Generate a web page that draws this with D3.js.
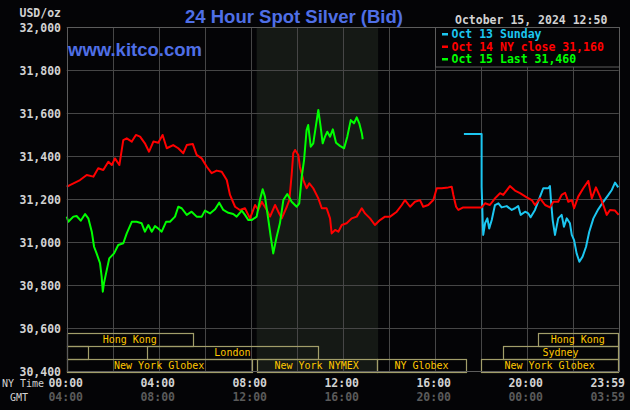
<!DOCTYPE html>
<html>
<head>
<meta charset="utf-8">
<script src="https://cdn.jsdelivr.net/npm/d3@7"></script>
<style>
  body { margin: 0; background: #040406; }
  svg { display: block; }
  .mono { font-family: "DejaVu Sans Mono", "Liberation Mono", monospace; }
  .sans { font-family: "Liberation Sans", Arial, sans-serif; }
</style>
</head>
<body>
<svg width="630" height="410"></svg>
<script>
//  chart data (hour of NY day, price)
var oct13 = [[17.27,31.502],[18.04,31.502],[18.04,31.257],[18.09,31.087],[18.11,31.033],[18.19,31.087],[18.29,31.110],[18.37,31.063],[18.48,31.102],[18.62,31.172],[18.77,31.180],[18.91,31.161],[19.13,31.167],[19.35,31.149],[19.49,31.157],[19.63,31.167],[19.74,31.126],[19.93,31.141],[20.07,31.133],[20.17,31.115],[20.36,31.149],[20.58,31.211],[20.72,31.250],[20.94,31.250],[21.01,31.260],[21.06,31.187],[21.13,31.102],[21.23,31.033],[21.37,31.110],[21.52,31.126],[21.62,31.071],[21.74,31.110],[21.88,31.087],[21.96,31.033],[22.06,31.009],[22.17,30.947],[22.29,30.908],[22.43,30.932],[22.58,30.978],[22.72,31.048],[22.90,31.110],[23.11,31.152],[23.33,31.187],[23.55,31.219],[23.70,31.242],[23.84,31.276],[23.98,31.254]];

var oct14 = [[0.00,31.257],[0.14,31.265],[0.58,31.288],[0.87,31.312],[1.16,31.304],[1.37,31.343],[1.59,31.335],[1.81,31.373],[1.96,31.358],[2.10,31.389],[2.29,31.358],[2.46,31.474],[2.61,31.482],[2.83,31.467],[3.01,31.498],[3.19,31.490],[3.40,31.459],[3.58,31.420],[3.77,31.467],[3.98,31.462],[4.17,31.498],[4.35,31.436],[4.63,31.451],[4.85,31.436],[5.07,31.413],[5.22,31.451],[5.48,31.456],[5.65,31.405],[5.87,31.389],[6.09,31.350],[6.30,31.320],[6.52,31.332],[6.74,31.327],[6.96,31.288],[7.10,31.219],[7.32,31.164],[7.53,31.149],[7.75,31.157],[7.97,31.110],[8.19,31.172],[8.33,31.149],[8.48,31.187],[8.70,31.149],[8.84,31.118],[9.06,31.172],[9.20,31.141],[9.35,31.110],[9.57,31.164],[9.68,31.195],[9.78,31.312],[9.85,31.413],[9.93,31.428],[10.07,31.405],[10.14,31.350],[10.29,31.288],[10.43,31.250],[10.55,31.273],[10.72,31.250],[10.94,31.203],[11.09,31.157],[11.30,31.157],[11.45,31.110],[11.52,31.040],[11.67,31.056],[11.81,31.048],[11.96,31.079],[12.17,31.087],[12.39,31.110],[12.61,31.118],[12.83,31.157],[12.97,31.133],[13.19,31.110],[13.40,31.079],[13.62,31.102],[13.84,31.118],[14.06,31.118],[14.35,31.141],[14.57,31.172],[14.71,31.195],[14.93,31.164],[15.14,31.187],[15.36,31.195],[15.50,31.164],[15.72,31.172],[15.94,31.195],[16.09,31.250],[16.30,31.250],[16.59,31.254],[16.74,31.257],[16.81,31.219],[16.93,31.164],[17.03,31.149],[17.24,31.161],[18.04,31.161],[18.19,31.180],[18.40,31.172],[18.62,31.203],[18.84,31.227],[18.98,31.219],[19.27,31.260],[19.49,31.239],[19.71,31.227],[20.00,31.208],[20.22,31.195],[20.36,31.172],[20.58,31.203],[20.80,31.172],[21.01,31.161],[21.16,31.187],[21.37,31.187],[21.52,31.219],[21.67,31.229],[21.81,31.187],[21.96,31.195],[22.06,31.157],[22.24,31.211],[22.46,31.250],[22.68,31.284],[22.83,31.203],[23.01,31.254],[23.19,31.211],[23.33,31.172],[23.48,31.126],[23.62,31.149],[23.84,31.146],[24.00,31.126]];

var oct15 = [[0.00,31.118],[0.07,31.094],[0.29,31.118],[0.43,31.121],[0.61,31.099],[0.80,31.130],[0.94,31.110],[1.09,31.048],[1.19,30.978],[1.30,30.947],[1.45,30.901],[1.52,30.839],[1.57,30.769],[1.62,30.808],[1.71,30.854],[1.85,30.924],[2.06,30.947],[2.24,30.986],[2.46,30.994],[2.61,31.040],[2.83,31.094],[3.04,31.094],[3.26,31.087],[3.40,31.048],[3.55,31.079],[3.70,31.048],[3.84,31.074],[3.98,31.063],[4.13,31.048],[4.32,31.094],[4.49,31.094],[4.71,31.118],[4.85,31.164],[5.00,31.157],[5.22,31.126],[5.43,31.141],[5.65,31.118],[5.87,31.118],[6.01,31.146],[6.23,31.133],[6.45,31.152],[6.63,31.183],[6.81,31.149],[7.03,31.136],[7.24,31.130],[7.39,31.118],[7.61,31.146],[7.75,31.126],[7.90,31.102],[8.04,31.102],[8.26,31.118],[8.40,31.195],[8.52,31.245],[8.62,31.211],[8.77,31.102],[8.87,31.025],[8.98,30.947],[9.13,31.025],[9.27,31.087],[9.42,31.195],[9.59,31.223],[9.78,31.187],[10.00,31.164],[10.11,31.180],[10.22,31.304],[10.32,31.381],[10.43,31.521],[10.50,31.544],[10.61,31.443],[10.72,31.459],[10.84,31.544],[10.94,31.614],[11.04,31.537],[11.13,31.459],[11.23,31.490],[11.33,31.513],[11.45,31.490],[11.57,31.524],[11.71,31.462],[11.88,31.447],[12.06,31.436],[12.20,31.490],[12.35,31.567],[12.49,31.552],[12.61,31.580],[12.72,31.552],[12.83,31.506],[12.87,31.478]];

var seriesData = [oct13, oct14, oct15];
var seriesLabels = ["Oct 13 Sunday", "Oct 14 NY close 31,160", "Oct 15 Last 31,460"];
var seriesColors = ["#1cc6f0", "#ff0000", "#00ff00"];

//  axis ticks
var priceTicks = [30.4, 30.6, 30.8, 31.0, 31.2, 31.4, 31.6, 31.8, 32.0];
var timeTicks = [0, 4, 8, 12, 16, 20, 23.98];
var nyLabels = ["00:00", "04:00", "08:00", "12:00", "16:00", "20:00", "23:59"];
var gmtLabels = ["04:00", "08:00", "12:00", "16:00", "20:00", "00:00", "03:59"];

//  trading sessions (row, start hour, end hour, name)
var sessionRows = [0, 0, 1, 1, 1, 2, 2, 2, 2];
var sessionStart = [0, 20.48, 0, 3.48, 18.98, 0, 8.26, 13.50, 18.03];
var sessionEnd = [5.48, 23.96, 0.94, 10.93, 23.96, 8.04, 13.47, 17.35, 23.96];
var sessionNames = ["Hong Kong", "Hong Kong", "", "London", "Sydney", "New York Globex", "New York NYMEX", "NY Globex", "New York Globex"];

//  NYMEX pit hours (shaded)
var pitHours = [8.26, 13.54];

//  svg and scales
var svg = d3.select("svg");
var x = d3.scaleLinear().domain([0, 24]).range([66.7, 618.7]);
var y = d3.scaleLinear().domain([30.4, 32.0]).range([371, 27]);

var gridColor = "#464646";
var textColor = "#d2d2d2";

svg.append("rect").attr("width", 630).attr("height", 410).attr("fill", "#040406");

//  shaded pit session
svg.append("rect")
  .attr("x", x(pitHours[0]))
  .attr("y", y(32.0))
  .attr("width", x(pitHours[1]) - x(pitHours[0]))
  .attr("height", y(30.4) - y(32.0))
  .attr("fill", "#151915");

//  grid
svg.append("g").selectAll("line").data(d3.range(0, 25, 2))
  .enter().append("line")
    .attr("x1", function(d) { return Math.round(x(d)) + 0.5; })
    .attr("x2", function(d) { return Math.round(x(d)) + 0.5; })
    .attr("y1", y(32.0))
    .attr("y2", y(30.4))
    .attr("stroke", gridColor);

svg.append("g").selectAll("line").data(priceTicks)
  .enter().append("line")
    .attr("x1", x(0))
    .attr("x2", x(24))
    .attr("y1", function(d) { return Math.round(y(d)) + 0.5; })
    .attr("y2", function(d) { return Math.round(y(d)) + 0.5; })
    .attr("stroke", gridColor);

//  session bars
var rowTop = 333, rowH = 13;
var sessions = sessionNames.map(function(n, i) {
  return { name: n, row: sessionRows[i], start: sessionStart[i], end: sessionEnd[i] };
});

var sess = svg.append("g");
sess.selectAll("rect").data(sessions)
  .enter().append("rect")
    .attr("x", function(d) { return Math.round(x(d.start)) + 0.5; })
    .attr("y", function(d) { return rowTop + d.row * rowH + 0.5; })
    .attr("width", function(d) { return Math.round(x(d.end)) - Math.round(x(d.start)); })
    .attr("height", rowH)
    .attr("fill", "none")
    .attr("stroke", "#a29e6a")
    .attr("stroke-width", 1.2);

sess.selectAll("text").data(sessions)
  .enter().append("text")
    .attr("class", "mono")
    .attr("x", function(d) { return (x(d.start) + x(d.end)) / 2; })
    .attr("y", function(d) { return rowTop + d.row * rowH + 10; })
    .attr("text-anchor", "middle")
    .attr("font-size", "10px")
    .attr("fill", "#ffc800")
    .text(function(d) { return d.name; });

//  price lines
var line = d3.line()
  .x(function(d) { return x(d[0]); })
  .y(function(d) { return y(d[1]); });

svg.append("g").selectAll("path").data(seriesData)
  .enter().append("path")
    .attr("d", line)
    .attr("fill", "none")
    .attr("stroke", function(d, i) { return seriesColors[i]; })
    .attr("stroke-width", 2)
    .attr("stroke-linejoin", "round");

//  plot border
svg.append("rect")
  .attr("x", Math.round(x(0)) + 0.5)
  .attr("y", y(32.0) + 0.5)
  .attr("width", Math.round(x(24)) - Math.round(x(0)))
  .attr("height", y(30.4) - y(32.0))
  .attr("fill", "none")
  .attr("stroke", "#5c5c5c");

//  legend
var legend = svg.append("g");
legend.append("rect")
  .attr("x", Math.round(x(16)) + 0.5)
  .attr("y", y(32.0) + 0.5)
  .attr("width", Math.round(x(24)) - Math.round(x(16)))
  .attr("height", 39.5)
  .attr("fill", "#040406")
  .attr("stroke", "#5c5c5c");

var items = legend.selectAll("g.item").data(seriesLabels)
  .enter().append("g")
    .attr("class", "item")
    .attr("transform", function(d, i) { return "translate(0," + (38 + i * 12.5) + ")"; });

items.append("rect")
  .attr("x", 442)
  .attr("y", -5)
  .attr("width", 6)
  .attr("height", 2.5)
  .attr("fill", function(d, i) { return seriesColors[i]; });

items.append("text")
  .attr("class", "mono")
  .attr("x", 451.5)
  .attr("font-size", "11.5px")
  .attr("font-weight", "bold")
  .attr("fill", function(d, i) { return seriesColors[i]; })
  .text(function(d) { return d; });

//  y axis labels
svg.append("g").selectAll("text").data(priceTicks)
  .enter().append("text")
    .attr("class", "mono")
    .attr("x", 61)
    .attr("y", function(d) { return y(d) + 4.5; })
    .attr("text-anchor", "end")
    .attr("font-size", "11.5px")
    .attr("font-weight", "bold")
    .attr("fill", textColor)
    .text(function(d) { return d3.format(".3f")(d).replace(".", ","); });

svg.append("text")
  .attr("class", "mono")
  .attr("x", 61).attr("y", 17)
  .attr("text-anchor", "end")
  .attr("font-size", "11.5px")
  .attr("font-weight", "bold")
  .attr("fill", textColor)
  .text("USD/oz");

//  x axis labels
var xl = svg.append("g");
xl.selectAll("text.ny").data(nyLabels)
  .enter().append("text")
    .attr("class", "mono ny")
    .attr("x", function(d, i) { return i == nyLabels.length - 1 ? 625 : x(timeTicks[i]) - 1; })
    .attr("y", 387)
    .attr("text-anchor", function(d, i) { return i == nyLabels.length - 1 ? "end" : "middle"; })
    .attr("font-size", "11.5px")
    .attr("font-weight", "bold")
    .attr("fill", textColor)
    .text(function(d) { return d; });

xl.selectAll("text.gmt").data(gmtLabels)
  .enter().append("text")
    .attr("class", "mono gmt")
    .attr("x", function(d, i) { return i == gmtLabels.length - 1 ? 625 : x(timeTicks[i]) - 1; })
    .attr("y", 401)
    .attr("text-anchor", function(d, i) { return i == gmtLabels.length - 1 ? "end" : "middle"; })
    .attr("font-size", "11.5px")
    .attr("font-weight", "bold")
    .attr("fill", "#5a5a5a")
    .text(function(d) { return d; });

xl.append("text")
  .attr("class", "mono")
  .attr("x", 2).attr("y", 387)
  .attr("font-size", "10px")
  .attr("fill", textColor)
  .text("NY Time");

xl.append("text")
  .attr("class", "mono")
  .attr("x", 19).attr("y", 401)
  .attr("text-anchor", "middle")
  .attr("font-size", "10px")
  .attr("fill", textColor)
  .text("GMT");

//  titles
svg.append("text")
  .attr("class", "sans")
  .attr("x", 294).attr("y", 22.5)
  .attr("text-anchor", "middle")
  .attr("font-size", "18.5px")
  .attr("font-weight", "bold")
  .attr("fill", "#4f6fe6")
  .text("24 Hour Spot Silver (Bid)");

svg.append("text")
  .attr("class", "sans")
  .attr("x", 68).attr("y", 56)
  .attr("font-size", "18.5px")
  .attr("font-weight", "bold")
  .attr("fill", "#4f6fe6")
  .text("www.kitco.com");

svg.append("text")
  .attr("class", "mono")
  .attr("x", 455).attr("y", 23.5)
  .attr("font-size", "11.5px")
  .attr("font-weight", "bold")
  .attr("fill", textColor)
  .text("October 15, 2024 12:50");
</script>
</body>
</html>
